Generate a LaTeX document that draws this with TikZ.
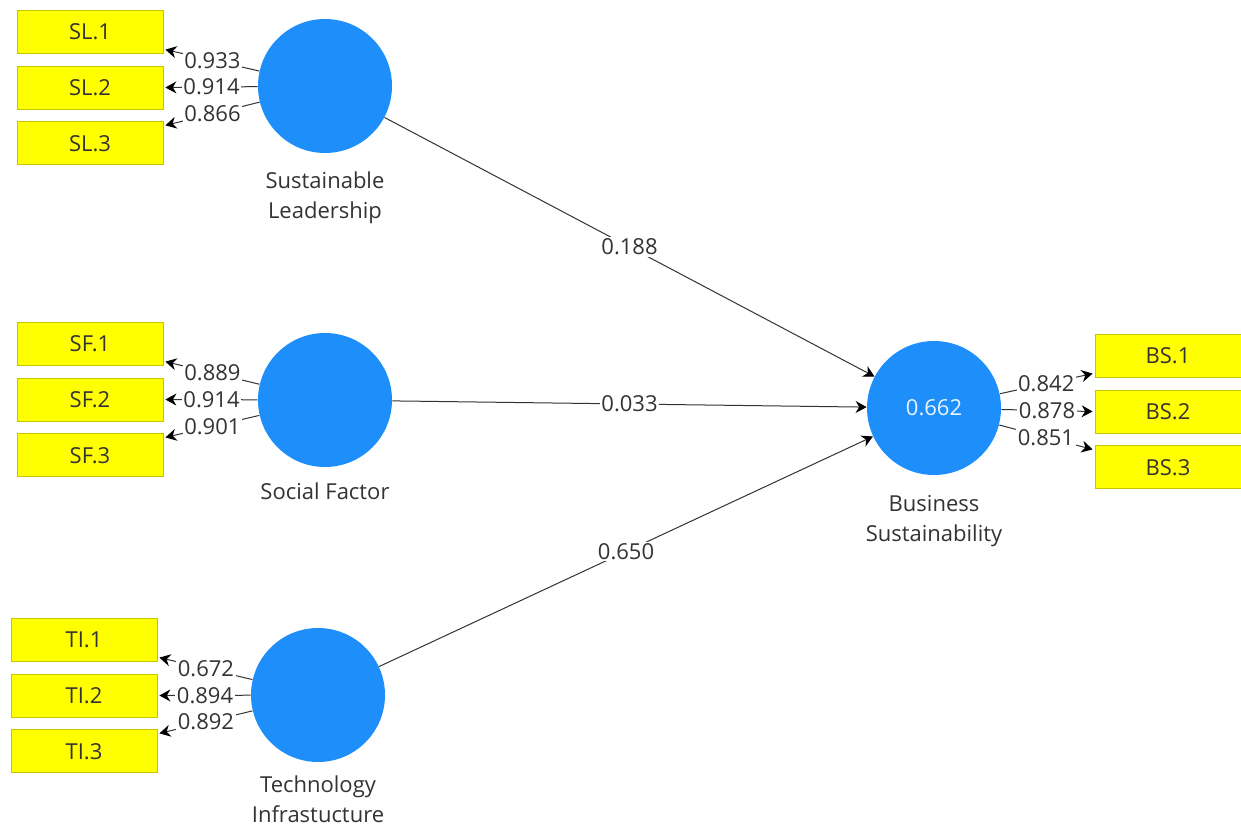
\documentclass[tikz,border=0pt]{standalone}
\usepackage{fontspec}
\setmainfont{Open Sans}
\usepackage{tikz}
\usetikzlibrary{calc,positioning,arrows.meta}
\definecolor{lvBlue}{HTML}{1E8FFA}
\definecolor{mvYellow}{HTML}{FFFF00}
\definecolor{mvBorder}{HTML}{C4C400}
\definecolor{textGray}{HTML}{333333}
\tikzset{
  latentVar/.style={%
    circle,
    fill=lvBlue,
    minimum size=67pt,
    inner sep=0pt,
    text=white!90!lvBlue,
    font=\fontsize{11}{13}\selectfont},
  latentName/.style={%
    align=center,
    text=textGray,
    font=\fontsize{11}{15}\selectfont},
  indicatorBox/.style={%
    rectangle,
    draw=mvBorder,
    fill=mvYellow,
    minimum width=73pt,
    minimum height=21.5pt,
    inner sep=0pt,
    text=textGray,
    font=\fontsize{11}{13}\selectfont},
  pathLine/.style={%
    draw=textGray,
    line width=0.5pt,
    -{Stealth[length=5.5pt,width=6pt,black]}},
  coefLabel/.style={%
    fill=white,
    inner sep=0.8pt,
    text=textGray,
    font=\fontsize{11}{13}\selectfont},
  }

\begin{document}
\begin{tikzpicture}[x=0.5pt,y=-0.5pt]
  \useasboundingbox[fill=white] (0,0) rectangle (1241,825);
  % latent variables
  \node[latentVar] (SL) at (325,86) {};
  \node[latentVar] (SF) at (325,400) {};
  \node[latentVar] (TI) at (318,695) {};
  \node[latentVar] (BS) at (934,408) {0.662};
  \node[latentName,below=5.5pt of SL] {Sustainable\\Leadership};
  \node[latentName,below=4pt of SF] {Social Factor};
  \node[latentName,below=3pt of TI] {Technology\\Infrastucture};
  \node[latentName,below=6.5pt of BS] {Business\\Sustainability};
  % indicators
  \node[indicatorBox] (SL2) at (90,87.5) {SL.2};
  \node[indicatorBox,above=6pt of SL2] (SL1) {SL.1};
  \node[indicatorBox,below=6pt of SL2] (SL3) {SL.3};
  \node[indicatorBox] (SF2) at (90,399.5) {SF.2};
  \node[indicatorBox,above=6pt of SF2] (SF1) {SF.1};
  \node[indicatorBox,below=6pt of SF2] (SF3) {SF.3};
  \node[indicatorBox] (TI2) at (84,695.5) {TI.2};
  \node[indicatorBox,above=6pt of TI2] (TI1) {TI.1};
  \node[indicatorBox,below=6pt of TI2] (TI3) {TI.3};
  \node[indicatorBox] (BS2) at (1168,411.5) {BS.2};
  \node[indicatorBox,above=6pt of BS2] (BS1) {BS.1};
  \node[indicatorBox,below=6pt of BS2] (BS3) {BS.3};
  % outer loadings
  \draw[pathLine] (SL) -- node[coefLabel] {0.933} ($(SL1.south east)+(2,-4)$);
  \draw[pathLine] (SL) -- node[coefLabel] {0.914} ($(SL2.east)+(2,0)$);
  \draw[pathLine] (SL) -- node[coefLabel] {0.866} ($(SL3.north east)+(2,4)$);
  \draw[pathLine] (SF) -- node[coefLabel] {0.889} ($(SF1.south east)+(2,-4)$);
  \draw[pathLine] (SF) -- node[coefLabel] {0.914} ($(SF2.east)+(2,0)$);
  \draw[pathLine] (SF) -- node[coefLabel] {0.901} ($(SF3.north east)+(2,4)$);
  \draw[pathLine] (TI) -- node[coefLabel] {0.672} ($(TI1.south east)+(2,-4)$);
  \draw[pathLine] (TI) -- node[coefLabel] {0.894} ($(TI2.east)+(2,0)$);
  \draw[pathLine] (TI) -- node[coefLabel] {0.892} ($(TI3.north east)+(2,4)$);
  \draw[pathLine] (BS) -- node[coefLabel] {0.842} ($(BS1.south west)+(-2,-4)$);
  \draw[pathLine] (BS) -- node[coefLabel] {0.878} ($(BS2.west)+(-2,0)$);
  \draw[pathLine] (BS) -- node[coefLabel] {0.851} ($(BS3.north west)+(-2,4)$);
  % path coefficients
  \draw[pathLine] (SL) -- node[coefLabel] {0.188} (BS);
  \draw[pathLine] (SF) -- node[coefLabel] {0.033} (BS);
  \draw[pathLine] (TI) -- node[coefLabel] {0.650} (BS);
\end{tikzpicture}
\end{document}
